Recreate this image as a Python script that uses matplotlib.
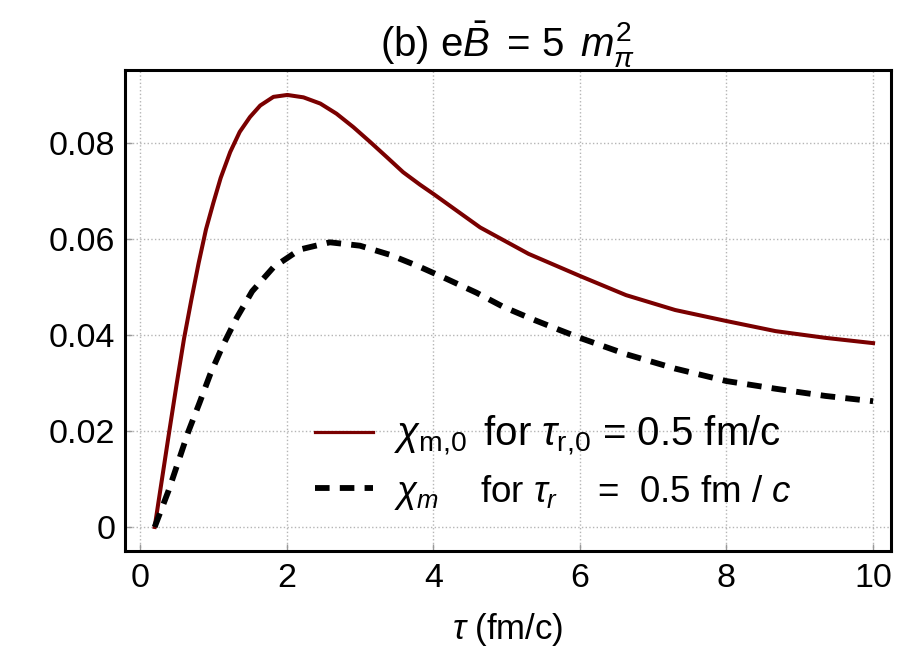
import numpy as np
import matplotlib
matplotlib.use('Agg')
import matplotlib.pyplot as plt

plt.rcParams['font.family'] = ['Liberation Sans', 'DejaVu Sans']
plt.rcParams['mathtext.fontset'] = 'custom'
plt.rcParams['mathtext.rm'] = 'Liberation Sans'
plt.rcParams['mathtext.it'] = 'Liberation Sans:italic'
plt.rcParams['mathtext.bf'] = 'Liberation Sans:bold'

# chi_m,0 for tau_r,0 = 0.5 fm/c (solid, dark red)
tauRed = [0.2, 0.3, 0.4, 0.5, 0.6, 0.7, 0.8, 0.9, 1.0, 1.1, 1.23, 1.36,
          1.50, 1.64, 1.82, 2.01, 2.23, 2.46, 2.68, 2.91, 3.14, 3.37, 3.59, 3.82,
          4.01, 4.32, 4.64, 5.3, 6.0, 6.63, 7.3, 8.0, 8.67, 9.35, 10.0]
chiRed = [0.0, 0.0100, 0.0200, 0.0298, 0.0392, 0.0473, 0.0550, 0.0620, 0.0675,
          0.0727, 0.0781, 0.0823, 0.0854, 0.0878, 0.0896, 0.0900, 0.0895, 0.0882,
          0.0861, 0.0833, 0.0802, 0.0770, 0.0739, 0.0713, 0.0693, 0.0659, 0.0624,
          0.0569, 0.0523, 0.0483, 0.0452, 0.0429, 0.0408, 0.0394, 0.0383]

# chi_m for tau_r = 0.5 fm/c (dashed, black)
tauBlack = [0.2, 0.39, 0.52, 0.66, 0.81, 0.96, 1.13, 1.32, 1.53, 1.82, 2.18, 2.59,
            3.0, 3.41, 3.80, 4.18, 4.59, 4.95, 5.35, 5.73, 6.0, 6.63, 7.3, 8.0,
            8.67, 9.35, 10.0]
chiBlack = [0.0, 0.0076, 0.0135, 0.0199, 0.0258, 0.0319, 0.0378, 0.0436, 0.0491,
            0.0541, 0.0578, 0.0593, 0.0586, 0.0567, 0.0543, 0.0517, 0.0488, 0.0459,
            0.0433, 0.0410, 0.0394, 0.0360, 0.0330, 0.0304, 0.0288, 0.0273, 0.0262]

xTicks = [0, 2, 4, 6, 8, 10]
yTicks = [0, 0.02, 0.04, 0.06, 0.08]
yTickLabels = ['0', '0.02', '0.04', '0.06', '0.08']

fig = plt.figure(figsize=(9.07, 6.48), dpi=100)
ax = fig.add_axes([0.1378, 0.1497, 0.9824 - 0.1378, 0.892 - 0.1497])

ax.plot(tauRed, chiRed, '-', color='#7a0000', lw=2.9,
        label=r'$\chi_{\rm m{,}0}\,$ for $\tau_{\rm r{,}0}$ = 0.5 fm/c')
ax.plot(tauBlack, chiBlack, '--', color='black', lw=4.2, dashes=(2.5, 1.75),
        label=r'$\chi_m$    for $\tau_r$    =  0.5 fm / $c$')

ax.set_xlim(-0.205, 10.245)
ax.set_ylim(-0.005, 0.0952)
ax.set_xticks(xTicks)
ax.set_yticks(yTicks)
ax.set_yticklabels(yTickLabels)
ax.grid(True, color='#b5b5b5', linestyle=':', linewidth=1.0)
ax.tick_params(direction='in', length=5, width=1, color='#999999',
               labelsize=24.5, pad=7)
ax.tick_params(axis='x', pad=9)
for sp in ax.spines.values():
    sp.set_linewidth(2.2)

ax.set_title(r'(b) e$\bar{B}\,$ = 5 $\,m_{\pi}^{2}$', fontsize=29, pad=4)
ax.set_xlabel(r'$\tau$ (fm/c)', fontsize=25, labelpad=12)

leg = ax.legend(loc='lower left', bbox_to_anchor=(0.248, 0.082), frameon=False,
                fontsize=27, handlelength=1.55, handletextpad=0.55,
                labelspacing=0.4, borderpad=0, borderaxespad=0)
leg.get_texts()[0].set_fontsize(29)
leg.get_texts()[1].set_fontsize(26.5)
leg.get_lines()[0].set_linewidth(2.3)

fig.savefig('out.png', dpi=100)
